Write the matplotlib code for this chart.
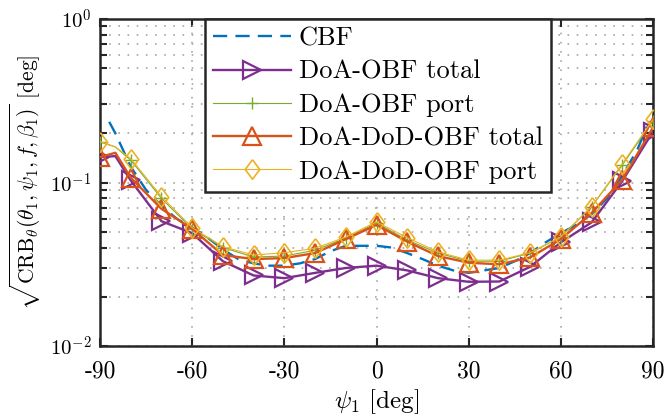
import numpy as np
import matplotlib
matplotlib.use("Agg")
import matplotlib.pyplot as plt
from matplotlib.ticker import FixedLocator, NullFormatter, LogLocator

plt.rcParams['font.family'] = ['cmr10']
plt.rcParams['mathtext.fontset'] = 'cm'
plt.rcParams['axes.unicode_minus'] = False

# Angle grid shared by the marked curves (extra point at -85 deg)
psi = [-90, -85, -80, -70, -60, -50, -40, -30, -20, -10, 0, 10, 20, 30, 40, 50, 60, 70, 80, 90]

doa_obf_total = [0.143, 0.145, 0.103, 0.058, 0.049, 0.033, 0.027, 0.026, 0.028, 0.030, 0.031,
                 0.029, 0.026, 0.0247, 0.0248, 0.0305, 0.043, 0.057, 0.102, 0.205]
doa_obf_port = [0.177, 0.165, 0.137, 0.080, 0.052, 0.040, 0.035, 0.0355, 0.0385, 0.0457, 0.0565,
                0.0445, 0.037, 0.033, 0.033, 0.037, 0.0465, 0.071, 0.128, 0.238]
doa_dod_total = [0.143, 0.152, 0.107, 0.069, 0.052, 0.036, 0.034, 0.0345, 0.037, 0.045, 0.055,
                 0.0435, 0.0355, 0.0323, 0.0316, 0.0348, 0.045, 0.065, 0.104, 0.217]
doa_dod_port = [0.178, 0.165, 0.140, 0.082, 0.053, 0.0405, 0.036, 0.0372, 0.0396, 0.0464, 0.0574,
                0.046, 0.0376, 0.0335, 0.0335, 0.0372, 0.0466, 0.0711, 0.130, 0.243]

# Conventional beamformer curve (no markers)
psi_cbf = [-87, -85, -80, -75, -70, -65, -60, -55, -50, -45, -40, -35, -30, -25, -20, -15, -10,
           -5, 0, 5, 10, 15, 20, 25, 30, 35, 40, 45, 50, 55, 60, 65, 70, 75, 80, 85, 88]
cbf = [0.235, 0.200, 0.125, 0.090, 0.072, 0.060, 0.053, 0.046, 0.039, 0.034, 0.032, 0.031, 0.031,
       0.032, 0.034, 0.038, 0.041, 0.041, 0.041, 0.040, 0.037, 0.034, 0.031, 0.029, 0.028, 0.029,
       0.030, 0.033, 0.037, 0.043, 0.049, 0.055, 0.064, 0.080, 0.110, 0.160, 0.220]

xticks = [-90, -60, -30, 0, 30, 60, 90]
xticklabels = ['-90', '-60', '-30', '0', '30', '60', '90']
yticks = [1e-2, 1e-1, 1e0]
yticklabels = [r'$10^{-2}$', r'$10^{-1}$', r'$10^{0}$']

blue = '#0072BD'
orange = '#D95319'
yellow = '#EDB120'
purple = '#7E2F8E'
green = '#77AC30'

# tall diamond, as drawn by MATLAB
diamond = [(0, 1), (0.75, 0), (0, -1), (-0.75, 0), (0, 1)]

mark_idx = [i for i, p in enumerate(psi) if p % 10 == 0]

fig = plt.figure(figsize=(6.65, 4.18), dpi=100)
ax = fig.add_axes([100 / 665, 1 - 346 / 418, 553 / 665, 327 / 418])

ax.plot(psi_cbf, cbf, '--', color=blue, lw=1.7, dashes=(6, 3.5), label='CBF', zorder=3)
ax.plot(psi, doa_obf_total, '-', color=purple, lw=1.7, marker='>', ms=12.5, mfc='none',
        mew=1.6, markevery=mark_idx, label='DoA-OBF total', zorder=4)
ax.plot(psi, doa_obf_port, '-', color=green, lw=0.8, marker='+', ms=9, mew=1.0,
        markevery=mark_idx, label='DoA-OBF port', zorder=5)
ax.plot(psi, doa_dod_total, '-', color=orange, lw=1.7, marker='^', ms=12.5, mfc='none',
        mew=1.6, markevery=mark_idx, label='DoA-DoD-OBF total', zorder=6)
ax.plot(psi, doa_dod_port, '-', color=yellow, lw=0.8, marker=diamond, ms=14, mfc='none',
        mew=1.2, markevery=mark_idx, label='DoA-DoD-OBF port', zorder=7)

ax.set_yscale('log')
ax.set_xlim(-90, 90)
ax.set_ylim(1e-2, 1e0)
ax.xaxis.set_major_locator(FixedLocator(xticks))
ax.set_xticklabels(xticklabels, fontsize=17)
ax.yaxis.set_major_locator(FixedLocator(yticks))
ax.set_yticklabels(yticklabels, fontsize=15)
ax.yaxis.set_minor_locator(LogLocator(base=10, subs=np.arange(2, 10)))
ax.yaxis.set_minor_formatter(NullFormatter())

ax.tick_params(which='both', direction='in', top=True, right=True, width=1.5, color='#262626')
ax.tick_params(which='major', length=6)
ax.tick_params(which='minor', length=5)
ax.tick_params(axis='x', pad=10)
ax.tick_params(axis='y', pad=6)
for s in ax.spines.values():
    s.set_linewidth(1.8)
    s.set_color('#262626')

grid_style = dict(linestyle=(0, (1, 4.5)), color='#a6a6a6', lw=1.2)
ax.grid(True, which='major', axis='both', **grid_style)
ax.grid(True, which='minor', axis='y', **grid_style)

ax.set_xlabel(r'$\psi_1$ [deg]', fontsize=18, labelpad=4)
ax.set_ylabel(r'$\sqrt{\mathrm{CRB}_\theta(\theta_1,\psi_1,f,\beta_1)}$ [deg]', fontsize=15.5,
              labelpad=5)

leg = ax.legend(loc='upper left', bbox_to_anchor=(0.19, 1.0), fontsize=19, handlelength=2.95,
                numpoints=1, fancybox=False, framealpha=1, edgecolor='#262626',
                borderaxespad=0, labelspacing=0.36, borderpad=0.3, handletextpad=0.3)
leg.get_frame().set_linewidth(1.8)
leg.set_zorder(10)

fig.savefig('out.png', dpi=100)
